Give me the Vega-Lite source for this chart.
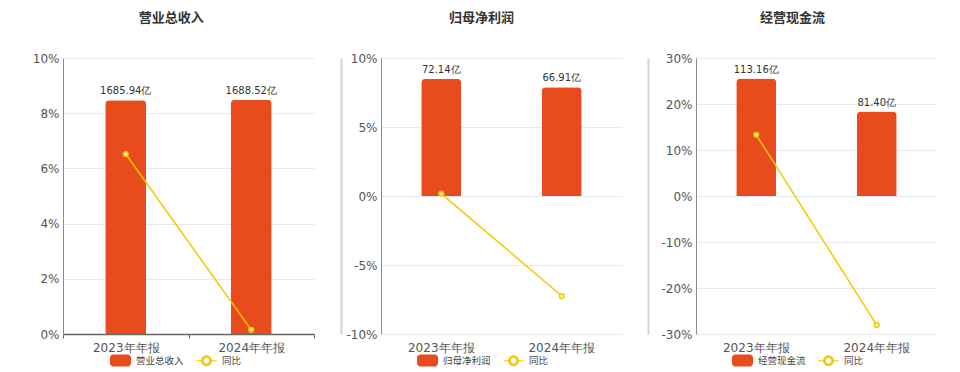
{
  "$schema": "https://vega.github.io/schema/vega-lite/v6.json",
  "padding": {"left": 28, "top": 12, "right": 0, "bottom": 0},
  "spacing": 26,
  "background": "#ffffff",
  "config": {
    "font": "DejaVu Sans",
    "view": {"stroke": null},
    "axis": {"labelFont": "DejaVu Sans", "labelFontSize": 12, "labelColor": "#555555", "title": null},
    "legend": {"orient": "none", "direction": "horizontal", "title": null, "labelFontSize": 9.5, "labelColor": "#444444", "labelFont": "Noto Sans CJK SC", "symbolSize": 400, "columnPadding": 10, "labelOffset": 5, "padding": 0, "legendY": 292},
    "title": {"font": "Noto Sans CJK SC", "fontSize": 13, "fontWeight": "bold", "color": "#333333", "anchor": "middle", "frame": "bounds", "offset": 27}
  },
  "datasets": {
    "fin": [
      {"panel": "营业总收入", "period": "2023年年报", "value": 1685.94, "label": "1685.94亿", "yoy": 6.52},
      {"panel": "营业总收入", "period": "2024年年报", "value": 1688.52, "label": "1688.52亿", "yoy": 0.15},
      {"panel": "归母净利润", "period": "2023年年报", "value": 72.14, "label": "72.14亿", "yoy": 0.17},
      {"panel": "归母净利润", "period": "2024年年报", "value": 66.91, "label": "66.91亿", "yoy": -7.25},
      {"panel": "经营现金流", "period": "2023年年报", "value": 113.16, "label": "113.16亿", "yoy": 13.3},
      {"panel": "经营现金流", "period": "2024年年报", "value": 81.40, "label": "81.40亿", "yoy": -28.07}
    ]
  },
  "resolve": {"scale": {"color": "independent", "y": "independent", "x": "independent"}, "legend": {"color": "independent"}},
  "hconcat": [
    {
      "title": {"text": "营业总收入"},
      "width": 251,
      "height": 276,
      "data": {"name": "fin"},
      "transform": [{"filter": "datum.panel === '营业总收入'"}],
      "resolve": {"scale": {"y": "independent"}},
      "layer": [
        {
          "encoding": {
            "x": {"field": "period", "type": "nominal", "sort": null,
              "scale": {"paddingInner": 0, "paddingOuter": 0},
              "axis": {"labelAngle": 0, "domainColor": "#666666", "domainWidth": 1.5, "tickColor": "#666666", "tickBand": "extent", "tickSize": 4, "labelPadding": 4}},
            "y": {"field": "value", "type": "quantitative", "scale": {"domain": [0, 1990]}, "axis": null}
          },
          "layer": [
            {"mark": {"type": "bar", "width": 41, "cornerRadiusTopLeft": 4, "cornerRadiusTopRight": 4},
             "encoding": {"color": {"datum": "营业总收入", "scale": {"domain": ["营业总收入", "同比"], "range": ["#E84B1C", "#F5C800"]},
               "legend": {"legendX": 47,
                 "encode": {"symbols": {"update": {
                   "shape": {"signal": "datum.value === '同比' ? 'M-1,0H-0.5M0.5,0H1M0.5,0A0.5,0.5 0 1 0 -0.5,0A0.5,0.5 0 1 0 0.5,0ZM0.33,0A0.33,0.33 0 1 1 -0.33,0A0.33,0.33 0 1 1 0.33,0Z' : 'M-0.75,-0.55H0.75A0.25,0.25 0 0 1 1,-0.3V0.3A0.25,0.25 0 0 1 0.75,0.55H-0.75A0.25,0.25 0 0 1 -1,0.3V-0.3A0.25,0.25 0 0 1 -0.75,-0.55Z'"},
                   "strokeWidth": {"value": 1},
                   "opacity": {"value": 1}}}}}}}},
            {"mark": {"type": "text", "dy": -9, "fontSize": 10, "color": "#333333"},
             "encoding": {"text": {"field": "label", "type": "nominal"}}}
          ]
        },
        {
          "encoding": {
            "x": {"field": "period", "type": "nominal", "sort": null},
            "y": {"field": "yoy", "type": "quantitative", "scale": {"domain": [0, 10]},
              "axis": {"orient": "left", "values": [0, 2, 4, 6, 8, 10], "labelExpr": "datum.value + '%'", "ticks": false, "labelPadding": 4, "minExtent": 35, "maxExtent": 35, "grid": true, "gridColor": "#E6E9F4", "domainColor": "#8a8a8a"}}
          },
          "layer": [
            {"mark": {"type": "line", "strokeWidth": 1.5}, "encoding": {"color": {"datum": "同比"}}},
            {"mark": {"type": "point", "filled": true, "size": 22, "fill": "#FFF2A0", "stroke": "#F5C800", "strokeWidth": 1.5, "opacity": 1}, "encoding": {}}
          ]
        }
      ]
    },
    {
      "title": {"text": "归母净利润"},
      "width": 241,
      "height": 276,
      "data": {"name": "fin"},
      "transform": [{"filter": "datum.panel === '归母净利润'"}],
      "resolve": {"scale": {"y": "independent"}},
      "layer": [
        {
          "encoding": {
            "x": {"field": "period", "type": "nominal", "sort": null,
              "scale": {"paddingInner": 0, "paddingOuter": 0},
              "axis": {"labelAngle": 0, "domain": false, "ticks": false, "labelPadding": 8}},
            "y": {"field": "value", "type": "quantitative", "scale": {"domain": [-85, 85]},
              "axis": {"orient": "left", "offset": 40, "labels": false, "ticks": false, "grid": false, "domainColor": "#d4d4d4", "domainWidth": 2, "minExtent": 0, "maxExtent": 0}}
          },
          "layer": [
            {"mark": {"type": "bar", "width": 40, "cornerRadiusTopLeft": 4, "cornerRadiusTopRight": 4},
             "encoding": {"color": {"datum": "归母净利润", "scale": {"domain": ["归母净利润", "同比"], "range": ["#E84B1C", "#F5C800"]},
               "legend": {"legendX": 36,
                 "encode": {"symbols": {"update": {
                   "shape": {"signal": "datum.value === '同比' ? 'M-1,0H-0.5M0.5,0H1M0.5,0A0.5,0.5 0 1 0 -0.5,0A0.5,0.5 0 1 0 0.5,0ZM0.33,0A0.33,0.33 0 1 1 -0.33,0A0.33,0.33 0 1 1 0.33,0Z' : 'M-0.75,-0.55H0.75A0.25,0.25 0 0 1 1,-0.3V0.3A0.25,0.25 0 0 1 0.75,0.55H-0.75A0.25,0.25 0 0 1 -1,0.3V-0.3A0.25,0.25 0 0 1 -0.75,-0.55Z'"},
                   "strokeWidth": {"value": 1},
                   "opacity": {"value": 1}}}}}}}},
            {"mark": {"type": "text", "dy": -9, "fontSize": 10, "color": "#333333"},
             "encoding": {"text": {"field": "label", "type": "nominal"}}}
          ]
        },
        {
          "encoding": {
            "x": {"field": "period", "type": "nominal", "sort": null},
            "y": {"field": "yoy", "type": "quantitative", "scale": {"domain": [-10, 10]},
              "axis": {"orient": "left", "values": [-10, -5, 0, 5, 10], "labelExpr": "datum.value + '%'", "ticks": false, "labelPadding": 4, "minExtent": 36, "maxExtent": 36, "grid": true, "gridColor": "#E6E9F4", "domainColor": "#8a8a8a"}}
          },
          "layer": [
            {"mark": {"type": "rule", "color": "#666666", "strokeWidth": 1.5}, "encoding": {"y": {"datum": 0}}},
            {"mark": {"type": "line", "strokeWidth": 1.5}, "encoding": {"color": {"datum": "同比"}}},
            {"mark": {"type": "point", "filled": true, "size": 22, "fill": "#FFF2A0", "stroke": "#F5C800", "strokeWidth": 1.5, "opacity": 1}, "encoding": {}}
          ]
        }
      ]
    },
    {
      "title": {"text": "经营现金流"},
      "width": 241,
      "height": 276,
      "data": {"name": "fin"},
      "transform": [{"filter": "datum.panel === '经营现金流'"}],
      "resolve": {"scale": {"y": "independent"}},
      "layer": [
        {
          "encoding": {
            "x": {"field": "period", "type": "nominal", "sort": null,
              "scale": {"paddingInner": 0, "paddingOuter": 0},
              "axis": {"labelAngle": 0, "domain": false, "ticks": false, "labelPadding": 8}},
            "y": {"field": "value", "type": "quantitative", "scale": {"domain": [-133, 133]},
              "axis": {"orient": "left", "offset": 48, "labels": false, "ticks": false, "grid": false, "domainColor": "#d4d4d4", "domainWidth": 2, "minExtent": 0, "maxExtent": 0}}
          },
          "layer": [
            {"mark": {"type": "bar", "width": 40, "cornerRadiusTopLeft": 4, "cornerRadiusTopRight": 4},
             "encoding": {"color": {"datum": "经营现金流", "scale": {"domain": ["经营现金流", "同比"], "range": ["#E84B1C", "#F5C800"]},
               "legend": {"legendX": 36,
                 "encode": {"symbols": {"update": {
                   "shape": {"signal": "datum.value === '同比' ? 'M-1,0H-0.5M0.5,0H1M0.5,0A0.5,0.5 0 1 0 -0.5,0A0.5,0.5 0 1 0 0.5,0ZM0.33,0A0.33,0.33 0 1 1 -0.33,0A0.33,0.33 0 1 1 0.33,0Z' : 'M-0.75,-0.55H0.75A0.25,0.25 0 0 1 1,-0.3V0.3A0.25,0.25 0 0 1 0.75,0.55H-0.75A0.25,0.25 0 0 1 -1,0.3V-0.3A0.25,0.25 0 0 1 -0.75,-0.55Z'"},
                   "strokeWidth": {"value": 1},
                   "opacity": {"value": 1}}}}}}}},
            {"mark": {"type": "text", "dy": -9, "fontSize": 10, "color": "#333333"},
             "encoding": {"text": {"field": "label", "type": "nominal"}}}
          ]
        },
        {
          "encoding": {
            "x": {"field": "period", "type": "nominal", "sort": null},
            "y": {"field": "yoy", "type": "quantitative", "scale": {"domain": [-30, 30]},
              "axis": {"orient": "left", "values": [-30, -20, -10, 0, 10, 20, 30], "labelExpr": "datum.value + '%'", "ticks": false, "labelPadding": 4, "minExtent": 44, "maxExtent": 44, "grid": true, "gridColor": "#E6E9F4", "domainColor": "#8a8a8a"}}
          },
          "layer": [
            {"mark": {"type": "rule", "color": "#666666", "strokeWidth": 1.5}, "encoding": {"y": {"datum": 0}}},
            {"mark": {"type": "line", "strokeWidth": 1.5}, "encoding": {"color": {"datum": "同比"}}},
            {"mark": {"type": "point", "filled": true, "size": 22, "fill": "#FFF2A0", "stroke": "#F5C800", "strokeWidth": 1.5, "opacity": 1}, "encoding": {}}
          ]
        }
      ]
    }
  ]
}
